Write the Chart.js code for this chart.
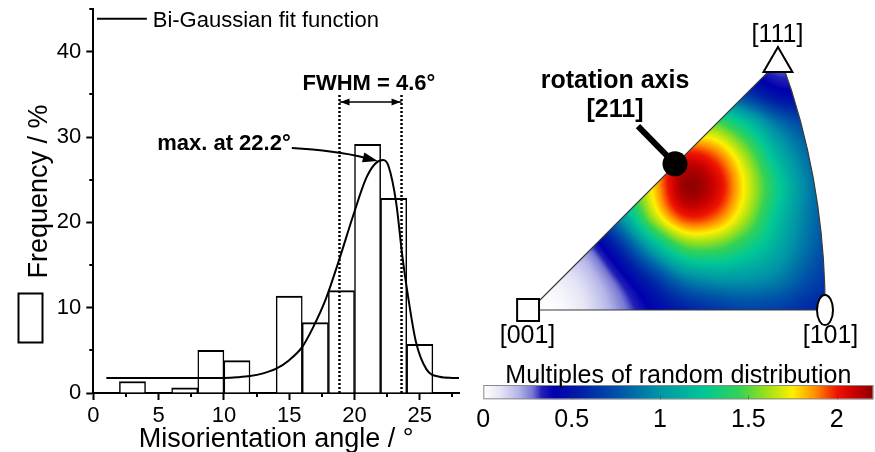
<!DOCTYPE html>
<html><head><meta charset="utf-8">
<script src="https://cdn.jsdelivr.net/npm/chart.js@4.4.1/dist/chart.umd.min.js"></script>
<style>
html,body{margin:0;padding:0;background:#fff;}
#wrap{position:relative;width:875px;height:452px;overflow:hidden;background:#fff;}
.box{position:absolute;}
canvas{display:block;}
</style></head><body>
<div id="wrap">
 <div class="box" style="left:0;top:0;width:470px;height:452px"><canvas id="hist"></canvas></div>
 <div class="box" style="left:470px;top:0;width:405px;height:452px"><canvas id="ipf"></canvas></div>
 <div class="box" style="left:470px;top:355px;width:405px;height:97px"><canvas id="cbar"></canvas></div>
</div>
<script>
// ---------------- histogram data ----------------
const binCenters = [3, 5, 7, 9, 11, 13, 15, 17, 19, 21, 23, 25];
const frequency  = [1.35, 0, 0.6, 5.0, 3.8, 0, 11.35, 8.25, 12.0, 29.15, 22.8, 5.7];
const fitX = [1, 4, 8, 10, 11, 12, 13, 14, 15, 16, 16.8, 17.8, 18.8, 19.9, 20.9, 21.6, 22.2, 22.6, 23.2, 23.65, 24.1, 24.7, 25.5, 26.5, 27.5, 28];
const fitY = [1.75, 1.75, 1.75, 1.77, 1.84, 1.98, 2.3, 2.85, 3.85, 5.4, 7.6, 11.0, 15.5, 20.8, 25.2, 26.9, 27.3, 26.6, 22.2, 16.2, 11.3, 6.0, 2.8, 1.9, 1.77, 1.75];
const xTicks = [0, 5, 10, 15, 20, 25];
const xMinorTicks = [2.5, 7.5, 12.5, 17.5, 22.5, 27.5];
const yTicks = [0, 10, 20, 30, 40];
const yMinorTicks = [5, 15, 25, 35, 45];
const fwhmLeft = 18.85, fwhmRight = 23.6, fwhmTop = 35.15, fwhmArrowY = 34.1;
const fwhmLabel = 'FWHM = 4.6°', fwhmLabelPos = [21.1, 35.5];
const maxLabel = 'max. at 22.2°', maxLabelPos = [10.0, 28.45];
const maxArrowFrom = [15.2, 28.7], maxArrowTo = [21.78, 27.2];
const legendText = 'Bi-Gaussian fit function', legendLineX = [0.28, 4.1], legendLineY = 43.87, legendTextPos = [4.55, 42.85];

// ---------------- inverse pole figure data ----------------
const ipfDiagonal = [[0, 0], [0.6501, 0.6501]];
const ipfArc = [[0.6501, 0.6501], [0.6782, 0.5691], [0.7011, 0.4909], [0.7197, 0.4155], [0.7345, 0.3425], [0.7461, 0.2716], [0.7547, 0.2022], [0.7607, 0.1341], [0.7642, 0.0669], [0.7654, 0]];
const mrdStep = 0.08; // grid spacing of the MRD samples (rows: y = 0..0.72, cols: x = 0..0.80)
const mrdGrid = [
  [0.00, 0.02, 0.12, 0.26, 0.42, 0.55, 0.64, 0.70, 0.68, 0.60, 0.52],
  [0.02, 0.07, 0.17, 0.36, 0.62, 0.90, 1.00, 1.00, 0.92, 0.74, 0.60],
  [0.13, 0.17, 0.30, 0.62, 1.08, 1.45, 1.48, 1.32, 1.10, 0.85, 0.66],
  [0.26, 0.33, 0.56, 1.02, 1.62, 1.97, 1.92, 1.62, 1.22, 0.90, 0.70],
  [0.40, 0.51, 0.83, 1.32, 1.78, 2.18, 2.08, 1.72, 1.30, 0.92, 0.70],
  [0.49, 0.60, 0.88, 1.28, 1.74, 2.02, 1.93, 1.60, 1.16, 0.85, 0.66],
  [0.48, 0.54, 0.72, 0.98, 1.27, 1.50, 1.52, 1.25, 0.90, 0.70, 0.58],
  [0.46, 0.49, 0.55, 0.67, 0.80, 0.90, 0.88, 0.66, 0.46, 0.42, 0.46],
  [0.44, 0.45, 0.48, 0.50, 0.54, 0.56, 0.51, 0.37, 0.28, 0.32, 0.41],
  [0.44, 0.44, 0.45, 0.45, 0.46, 0.47, 0.45, 0.36, 0.30, 0.34, 0.42]
];
const poleMarkers = [{x: -0.005, y: 0}, {x: 0.643, y: 0.639}, {x: 0.765, y: 0}];
const rotationAxisPoint = {x: 0.376, y: 0.379};
const pointerLine = [{x: 0.280, y: 0.477}, {x: 0.376, y: 0.379}];
const ipfLabels = [
  {text: '[111]', x: 0.6419, y: 0.695, bold: false},
  {text: '[001]', x: -0.0065, y: -0.0856, bold: false},
  {text: '[101]', x: 0.7793, y: -0.0856, bold: false},
  {text: 'rotation axis', x: 0.2204, y: 0.5757, bold: true},
  {text: '[211]', x: 0.2204, y: 0.5005, bold: true}
];

// ---------------- colour bar data ----------------
const cbarTitle = 'Multiples of random distribution';
const cbarTicks = [0, 0.5, 1, 1.5, 2];
const cbarMax = 2.207;
const cmapStops  = [0, 0.10, 0.20, 0.28, 0.33, 0.40, 0.55, 0.75, 1.00, 1.25, 1.45, 1.60, 1.75, 1.88, 2.00, 2.10, 2.207];
const cmapColors = ['#ffffff', '#e4e4f6', '#b4b4e8', '#7676d2', '#2020b8', '#0000ae', '#001ea6', '#0050a8', '#0096a6', '#00c896', '#34d254', '#9be01a', '#fff000', '#ff8c00', '#f01400', '#c80000', '#8c0000'];

const FONT = "'Liberation Sans', Arial, Helvetica, sans-serif";
Chart.defaults.font.family = FONT;
Chart.defaults.color = '#000';

// ---------- helpers ----------
function hexToRgb(h){ return [parseInt(h.substr(1,2),16), parseInt(h.substr(3,2),16), parseInt(h.substr(5,2),16)]; }
const cmapRgb = cmapColors.map(hexToRgb);
function cmap(v){
  if (v <= cmapStops[0]) return cmapRgb[0];
  for (let i = 1; i < cmapStops.length; i++){
    if (v <= cmapStops[i]){
      const t = (v - cmapStops[i-1]) / (cmapStops[i] - cmapStops[i-1]);
      const a = cmapRgb[i-1], b = cmapRgb[i];
      return [a[0]+(b[0]-a[0])*t, a[1]+(b[1]-a[1])*t, a[2]+(b[2]-a[2])*t];
    }
  }
  return cmapRgb[cmapRgb.length-1];
}
function catmull(p0,p1,p2,p3,t){ return 0.5*((2*p1)+(-p0+p2)*t+(2*p0-5*p1+4*p2-p3)*t*t+(-p0+3*p1-3*p2+p3)*t*t*t); }
function gridAt(i,j){ i = Math.max(0, Math.min(mrdGrid.length-1, i)); j = Math.max(0, Math.min(mrdGrid[0].length-1, j)); return mrdGrid[i][j]; }
function sampleMRD(X, Y){
  const gx = X / mrdStep, gy = Y / mrdStep;
  const j = Math.floor(gx), i = Math.floor(gy);
  const tx = gx - j, ty = gy - i;
  const r = [];
  for (let di = -1; di <= 2; di++) r.push(catmull(gridAt(i+di,j-1), gridAt(i+di,j), gridAt(i+di,j+1), gridAt(i+di,j+2), tx));
  return Math.max(0, Math.min(cbarMax, catmull(r[0], r[1], r[2], r[3], ty)));
}
function arrowHead(ctx, tx, ty, ang, len, hw){
  ctx.beginPath();
  ctx.moveTo(tx, ty);
  ctx.lineTo(tx - len*Math.cos(ang) + hw*Math.sin(ang), ty - len*Math.sin(ang) - hw*Math.cos(ang));
  ctx.lineTo(tx - len*Math.cos(ang) - hw*Math.sin(ang), ty - len*Math.sin(ang) + hw*Math.cos(ang));
  ctx.closePath();
  ctx.fill();
}

// ---------- histogram chart ----------
const histDecor = {
  id: 'histDecor',
  afterDraw(chart){
    const {ctx, scales: {x, y}} = chart;
    ctx.save();
    ctx.strokeStyle = '#000'; ctx.fillStyle = '#000'; ctx.lineWidth = 2;
    // minor ticks
    xMinorTicks.forEach(v => { const p = Math.round(x.getPixelForValue(v)); ctx.beginPath(); ctx.moveTo(p, y.bottom); ctx.lineTo(p, y.bottom + 4); ctx.stroke(); });
    yMinorTicks.forEach(v => { const p = Math.round(y.getPixelForValue(v)); ctx.beginPath(); ctx.moveTo(x.left, p); ctx.lineTo(x.left - 4, p); ctx.stroke(); });
    // legend
    ctx.beginPath(); ctx.moveTo(x.getPixelForValue(legendLineX[0]), y.getPixelForValue(legendLineY)); ctx.lineTo(x.getPixelForValue(legendLineX[1]), y.getPixelForValue(legendLineY)); ctx.stroke();
    ctx.font = `22px ${FONT}`; ctx.textAlign = 'left'; ctx.textBaseline = 'alphabetic';
    ctx.fillText(legendText, x.getPixelForValue(legendTextPos[0]), y.getPixelForValue(legendTextPos[1]));
    // FWHM arrow heads
    const ay = y.getPixelForValue(fwhmArrowY);
    arrowHead(ctx, x.getPixelForValue(fwhmLeft) + 1, ay, Math.PI, 9, 3.5);
    arrowHead(ctx, x.getPixelForValue(fwhmRight) - 1, ay, 0, 9, 3.5);
    ctx.font = `bold 22px ${FONT}`; ctx.textAlign = 'center';
    ctx.fillText(fwhmLabel, x.getPixelForValue(fwhmLabelPos[0]), y.getPixelForValue(fwhmLabelPos[1]));
    ctx.fillText(maxLabel, x.getPixelForValue(maxLabelPos[0]), y.getPixelForValue(maxLabelPos[1]));
    // curved arrow to the maximum
    const x0 = x.getPixelForValue(maxArrowFrom[0]), y0 = y.getPixelForValue(maxArrowFrom[1]);
    const x1 = x.getPixelForValue(maxArrowTo[0]), y1 = y.getPixelForValue(maxArrowTo[1]);
    const mx = (x0 + x1) / 2, my = (y0 + y1) / 2;
    const dx = x1 - x0, dy = y1 - y0, L = Math.hypot(dx, dy);
    const cx = mx + dy / L * 4, cy = my - dx / L * 4;
    const ang = Math.atan2(y1 - cy, x1 - cx);
    const bx = x1 - 13 * Math.cos(ang), by = y1 - 13 * Math.sin(ang);
    ctx.beginPath(); ctx.moveTo(x0, y0); ctx.quadraticCurveTo(cx, cy, bx, by); ctx.stroke();
    arrowHead(ctx, x1, y1, ang, 15, 5);
    // y axis title with legend box
    ctx.save();
    ctx.translate(46.5, 191.5); ctx.rotate(-Math.PI / 2);
    ctx.font = `27px ${FONT}`; ctx.textAlign = 'center'; ctx.textBaseline = 'alphabetic';
    ctx.fillText('Frequency / %', 0, 0);
    ctx.restore();
    ctx.strokeRect(18.5, 293.5, 24, 49);
    ctx.restore();
  }
};

new Chart(document.getElementById('hist'), {
  type: 'bar',
  data: {
    datasets: [
      { type: 'line', label: legendText, data: fitX.map((v, i) => ({x: v, y: fitY[i]})), borderColor: '#000', borderWidth: 2, pointRadius: 0, cubicInterpolationMode: 'monotone', fill: false, order: 1 },
      { type: 'line', label: 'FWHM left', data: [{x: fwhmLeft, y: 0}, {x: fwhmLeft, y: fwhmTop}], borderColor: '#000', borderWidth: 2.5, borderDash: [2, 2], pointRadius: 0, order: 2 },
      { type: 'line', label: 'FWHM right', data: [{x: fwhmRight, y: 0}, {x: fwhmRight, y: fwhmTop}], borderColor: '#000', borderWidth: 2.5, borderDash: [2, 2], pointRadius: 0, order: 2 },
      { type: 'line', label: 'FWHM width', data: [{x: fwhmLeft, y: fwhmArrowY}, {x: fwhmRight, y: fwhmArrowY}], borderColor: '#000', borderWidth: 1.5, pointRadius: 0, order: 2 },
      { type: 'bar', label: 'Frequency', data: binCenters.map((v, i) => ({x: v, y: frequency[i]})), backgroundColor: '#fff', borderColor: '#000', borderWidth: {top: 2, left: 1.5, right: 1.5, bottom: 0}, borderSkipped: 'start', barPercentage: 1, categoryPercentage: 1, order: 5 }
    ]
  },
  options: {
    responsive: true, maintainAspectRatio: false, animation: false, events: [],
    layout: {autoPadding: false, padding: {top: 9, right: 11, left: 0, bottom: 0}},
    plugins: {legend: {display: false}, tooltip: {enabled: false}},
    scales: {
      x: {
        type: 'linear', min: 0, max: 28, offset: false,
        afterBuildTicks: s => { s.ticks = xTicks.map(v => ({value: v})); },
        afterFit: s => { s.height = 59; s.paddingLeft = 0; s.paddingRight = 0; },
        grid: {drawOnChartArea: false, drawTicks: true, tickLength: 7, tickWidth: 2, tickColor: '#000', offset: false},
        border: {display: true, color: '#000', width: 2},
        ticks: {font: {size: 22}, color: '#000', padding: 3, maxRotation: 0, autoSkip: false},
        title: {display: true, text: 'Misorientation angle / °', font: {size: 27}, color: '#000', padding: {top: 0, bottom: -4}}
      },
      y: {
        type: 'linear', min: 0, max: 45,
        afterBuildTicks: s => { s.ticks = yTicks.map(v => ({value: v})); },
        afterFit: s => { s.width = 93.3; s.paddingTop = 0; s.paddingBottom = 0; },
        grid: {drawOnChartArea: false, drawTicks: true, tickLength: 7, tickWidth: 2, tickColor: '#000'},
        border: {display: true, color: '#000', width: 2},
        ticks: {font: {size: 22}, color: '#000', padding: 5}
      }
    }
  },
  plugins: [histDecor]
});

// ---------- inverse pole figure ----------
function boundaryPath(ctx, x, y){
  ctx.beginPath();
  ctx.moveTo(x.getPixelForValue(ipfDiagonal[0][0]), y.getPixelForValue(ipfDiagonal[0][1]));
  ctx.lineTo(x.getPixelForValue(ipfDiagonal[1][0]), y.getPixelForValue(ipfDiagonal[1][1]));
  ipfArc.forEach(p => ctx.lineTo(x.getPixelForValue(p[0]), y.getPixelForValue(p[1])));
  ctx.closePath();
}
const ipfField = {
  id: 'ipfField',
  beforeDatasetsDraw(chart){
    const {ctx, scales: {x, y}} = chart;
    const xs = ipfArc.map(p => p[0]);
    const px0 = Math.floor(x.getPixelForValue(0)) - 2, px1 = Math.ceil(x.getPixelForValue(Math.max(...xs))) + 2;
    const py0 = Math.floor(y.getPixelForValue(ipfDiagonal[1][1])) - 2, py1 = Math.ceil(y.getPixelForValue(0)) + 2;
    const w = px1 - px0, h = py1 - py0;
    const off = document.createElement('canvas'); off.width = w; off.height = h;
    const octx = off.getContext('2d');
    const img = octx.createImageData(w, h);
    for (let r = 0; r < h; r++){
      const Y = y.getValueForPixel(py0 + r + 0.5);
      for (let c = 0; c < w; c++){
        const X = x.getValueForPixel(px0 + c + 0.5);
        const col = cmap(sampleMRD(X, Y));
        const k = (r * w + c) * 4;
        img.data[k] = col[0]; img.data[k+1] = col[1]; img.data[k+2] = col[2]; img.data[k+3] = 255;
      }
    }
    octx.putImageData(img, 0, 0);
    ctx.save();
    boundaryPath(ctx, x, y); ctx.clip();
    ctx.drawImage(off, px0, py0);
    ctx.restore();
    ctx.save();
    boundaryPath(ctx, x, y);
    ctx.strokeStyle = '#3a3a3a'; ctx.lineWidth = 1.2; ctx.stroke();
    ctx.restore();
  },
  afterDatasetsDraw(chart){
    const {ctx, scales: {x, y}} = chart;
    ctx.save();
    ctx.fillStyle = '#000'; ctx.textAlign = 'center'; ctx.textBaseline = 'alphabetic';
    ipfLabels.forEach(l => {
      ctx.font = (l.bold ? 'bold 25px ' : '25px ') + FONT;
      ctx.fillText(l.text, x.getPixelForValue(l.x), y.getPixelForValue(l.y));
    });
    ctx.restore();
  }
};
const ellipseStyle = document.createElement('canvas');
ellipseStyle.width = 20; ellipseStyle.height = 34;
(function(){ const e = ellipseStyle.getContext('2d'); e.fillStyle = '#fff'; e.strokeStyle = '#000'; e.lineWidth = 2; e.beginPath(); e.ellipse(10, 17, 8, 15, 0, 0, Math.PI * 2); e.fill(); e.stroke(); })();

new Chart(document.getElementById('ipf'), {
  type: 'scatter',
  data: {
    datasets: [
      { label: 'poles', data: poleMarkers, pointStyle: ['rect', 'triangle', ellipseStyle], pointRadius: [15.5, 16.7, 10], backgroundColor: '#fff', borderColor: '#000', borderWidth: 2, order: 3 },
      { type: 'line', label: 'pointer', data: pointerLine, borderColor: '#000', borderWidth: 6, pointRadius: 0, order: 2 },
      { label: 'rotation axis', data: [rotationAxisPoint], pointStyle: 'circle', pointRadius: 12.5, backgroundColor: '#000', borderColor: '#000', borderWidth: 0, order: 1 }
    ]
  },
  options: {
    responsive: true, maintainAspectRatio: false, animation: false, events: [],
    layout: {autoPadding: false, padding: 0},
    plugins: {legend: {display: false}, tooltip: {enabled: false}},
    scales: {
      x: {type: 'linear', display: false, min: -0.1556, max: 0.8947},
      y: {type: 'linear', display: false, min: -0.3683, max: 0.8039}
    }
  },
  plugins: [ipfField]
});

// ---------- colour bar ----------
const cbarDecor = {
  id: 'cbarDecor',
  beforeDatasetsDraw(chart){
    const {ctx, chartArea: a, scales: {x}} = chart;
    const g = ctx.createLinearGradient(x.getPixelForValue(0), 0, x.getPixelForValue(cbarMax), 0);
    cmapStops.forEach((s, i) => g.addColorStop(Math.min(1, s / cbarMax), cmapColors[i]));
    ctx.save();
    ctx.fillStyle = g; ctx.fillRect(a.left, a.top, a.right - a.left, a.bottom - a.top);
    ctx.strokeStyle = '#8a8a8a'; ctx.lineWidth = 1; ctx.strokeRect(a.left + 0.5, a.top + 0.5, a.right - a.left - 1, a.bottom - a.top - 1);
    ctx.strokeStyle = 'rgba(60,60,60,0.5)';
    cbarTicks.slice(1).forEach(v => { const p = Math.round(x.getPixelForValue(v)) + 0.5; ctx.beginPath(); ctx.moveTo(p, a.bottom); ctx.lineTo(p, a.bottom - 4); ctx.stroke(); });
    ctx.fillStyle = '#000'; ctx.font = `25px ${FONT}`; ctx.textAlign = 'center'; ctx.textBaseline = 'alphabetic';
    ctx.fillText(cbarTitle, (a.left + a.right) / 2, a.top - 2);
    ctx.restore();
  }
};
new Chart(document.getElementById('cbar'), {
  type: 'scatter',
  data: {datasets: [{label: 'mrd', data: []}]},
  options: {
    responsive: true, maintainAspectRatio: false, animation: false, events: [],
    layout: {autoPadding: false, padding: {left: 13.3, right: 1.7, top: 30, bottom: 0}},
    plugins: {legend: {display: false}, tooltip: {enabled: false}},
    scales: {
      x: {
        type: 'linear', min: 0, max: cbarMax,
        afterBuildTicks: s => { s.ticks = cbarTicks.map(v => ({value: v})); },
        afterFit: s => { s.height = 52.7; s.paddingLeft = 0; s.paddingRight = 0; },
        grid: {display: false, drawTicks: false},
        border: {display: false},
        ticks: {font: {size: 25}, color: '#000', padding: 6, maxRotation: 0, autoSkip: false, callback: v => String(v)}
      },
      y: {type: 'linear', display: false, min: 0, max: 1}
    }
  },
  plugins: [cbarDecor]
});
</script>
</body></html>
